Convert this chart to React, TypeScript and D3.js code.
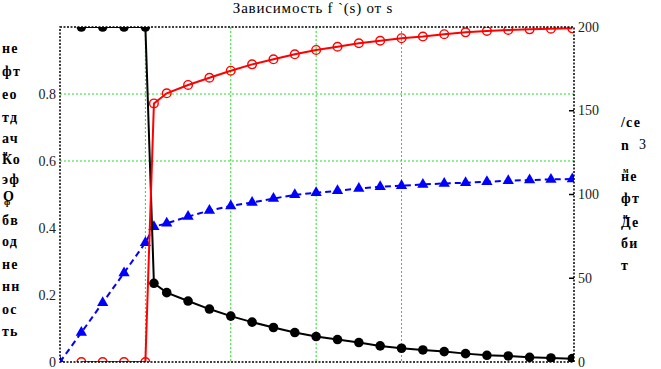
import * as d3 from "d3";

// s values (x axis, no labels in the original)
const sVals = [
  0, 0.25, 0.5, 0.75, 1, 1.1, 1.25, 1.5, 1.75, 2, 2.25, 2.5, 2.75, 3, 3.25, 3.5,
  3.75, 4, 4.25, 4.5, 4.75, 5, 5.25, 5.5, 5.75, 6,
];
// обводненность f(s), left axis
const waterCut = [
  null, 1, 1, 1, 1, 0.235, 0.207, 0.182, 0.158, 0.137, 0.119, 0.103, 0.088,
  0.076, 0.067, 0.058, 0.048, 0.041, 0.036, 0.031, 0.025, 0.02, 0.018, 0.014,
  0.012, 0.01,
];
// коэффициент нефтеотдачи, left axis
const recovery = [
  0, 0.088, 0.177, 0.266, 0.356, 0.404, 0.414, 0.434, 0.452, 0.466, 0.476,
  0.488, 0.499, 0.505, 0.511, 0.518, 0.523, 0.526, 0.53, 0.533, 0.535, 0.538,
  0.541, 0.543, 0.545, 0.546,
];
// дебит нефти, right axis
const oilRate = [
  null, 0, 0, 0, 0, 154.4, 160.4, 165.4, 169.7, 173.9, 177.7, 180.7, 183.7,
  186.3, 188.2, 190.3, 191.8, 193.3, 194.3, 195.7, 196.8, 197.6, 198.2, 198.6,
  199.0, 199.2,
];

const leftTicks = [0, 0.2, 0.4, 0.6, 0.8];
const rightTicks = [0, 50, 100, 150, 200];
const gridX = [1, 2, 3, 4];
const gridY = [0.6, 0.8];

const W = 661;
const H = 369;
const L = 60, R = 574, T = 27, B = 362;

export default function App() {
  const x = d3.scaleLinear().domain([0, 6.02]).range([L, R]);
  const yL = d3.scaleLinear().domain([0, 1]).range([B, T]);
  const yR = d3.scaleLinear().domain([0, 200]).range([B, T]);

  const pts = (vals: (number | null)[], y: d3.ScaleLinear<number, number>) =>
    sVals
      .map((s, i) => (vals[i] == null ? null : [x(s), y(vals[i] as number)]))
      .filter((p) => p != null) as [number, number][];

  const line = d3.line();
  const blackPts = pts(waterCut, yL);
  const bluePts = pts(recovery, yL);
  const redPts = pts(oilRate, yR);
  const tri = d3.symbol().type(d3.symbolTriangle).size(55)();

  const lbl = { fontFamily: "'Liberation Serif', serif", fontWeight: 700, fontSize: 14, letterSpacing: 1.2 };
  const tick = { fontFamily: "'Liberation Serif', serif", fontSize: 14, fill: "#222" };

  return (
    <svg width={W} height={H} style={{ position: "absolute", left: 0, top: 0, background: "#fff" }}>
      <defs>
        <clipPath id="plot">
          <rect x={L} y={T} width={R - L} height={B - T} />
        </clipPath>
      </defs>
      <text x={313} y={13} textAnchor="middle" style={{ fontFamily: "'Liberation Serif', serif", fontSize: 15, letterSpacing: 0.8 }}>
        Зависимость f `(s) от s
      </text>

      {gridX.map((g) => (
        <line key={"gx" + g} x1={x(g)} x2={x(g)} y1={T} y2={B} stroke="#22dd22" strokeDasharray="2,2" />
      ))}
      {gridY.map((g) => (
        <line key={"gy" + g} x1={L} x2={R} y1={yL(g)} y2={yL(g)} stroke="#22dd22" strokeDasharray="2,2" />
      ))}

      <g clipPath="url(#plot)">
        <path d={line(bluePts) || ""} fill="none" stroke="#0000ff" strokeWidth={2} strokeDasharray="6,4" />
        {bluePts.map(([px, py], i) => (
          <path key={"b" + i} d={tri || ""} transform={`translate(${px},${py})`} fill="#0000ff" />
        ))}
        <path d={line(blackPts) || ""} fill="none" stroke="#000" strokeWidth={2} />
        {blackPts.map(([px, py], i) => (
          <circle key={"k" + i} cx={px} cy={py} r={4.8} fill="#000" />
        ))}
        <path d={line(redPts) || ""} fill="none" stroke="#ff0000" strokeWidth={2} />
        {redPts.map(([px, py], i) => (
          <circle key={"r" + i} cx={px} cy={py} r={4.3} fill="none" stroke="#ff0000" strokeWidth={1.4} />
        ))}
      </g>

      <rect x={L} y={T} width={R - L} height={B - T} fill="none" stroke="#000" strokeWidth={1.5} strokeDasharray="2,1.5" />

      {leftTicks.map((t) => (
        <text key={"lt" + t} x={56} y={yL(t)} textAnchor="end" dominantBaseline="central" style={tick}>
          {t}
        </text>
      ))}
      {rightTicks.map((t) => (
        <g key={"rt" + t}>
          {t > 0 && t < 200 && <line x1={R - 5} x2={R} y1={yR(t)} y2={yR(t)} stroke="#000" strokeWidth={1.5} />}
          <text x={578} y={yR(t)} dominantBaseline="central" style={tick}>
            {t}
          </text>
        </g>
      ))}

      <g style={lbl}>
        <text x={2} y={48} dominantBaseline="central">не</text>
        <text x={2} y={71} dominantBaseline="central">фт</text>
        <text x={2} y={94} dominantBaseline="central">ео</text>
        <text x={2} y={117} dominantBaseline="central">тд</text>
        <text x={2} y={138} dominantBaseline="central">ач</text>
        <text x={2} y={159} dominantBaseline="central">
          Ко<tspan x={3} dy={-6} fontSize={8}>и</tspan>
        </text>
        <text x={2} y={179} dominantBaseline="central">эф</text>
        <text x={3} y={196} dominantBaseline="central">
          О<tspan x={4} dy={6} fontSize={9}>ф</tspan>
        </text>
        <text x={2} y={220} dominantBaseline="central">бв</text>
        <text x={2} y={241} dominantBaseline="central">од</text>
        <text x={2} y={264} dominantBaseline="central">не</text>
        <text x={2} y={286} dominantBaseline="central">нн</text>
        <text x={2} y={309} dominantBaseline="central">ос</text>
        <text x={2} y={331} dominantBaseline="central">ть</text>

        <text x={621} y={122} dominantBaseline="central">/се</text>
        <text x={621} y={145} dominantBaseline="central">
          n<tspan x={639} dy={-1} fontWeight={400}>3</tspan>
        </text>
        <text x={621} y={176} dominantBaseline="central">
          не<tspan x={623} dy={-6} fontSize={8}>м</tspan>
        </text>
        <text x={621} y={198} dominantBaseline="central">фт</text>
        <text x={621} y={222} dominantBaseline="central">
          Де<tspan x={623} dy={-6} fontSize={8}>и</tspan>
        </text>
        <text x={621} y={243} dominantBaseline="central">би</text>
        <text x={621} y={265} dominantBaseline="central">т</text>
      </g>
    </svg>
  );
}
